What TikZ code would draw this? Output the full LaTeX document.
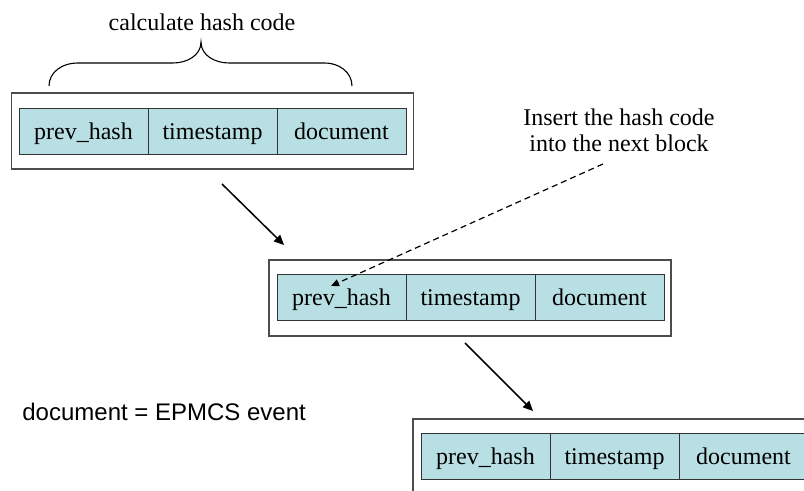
\documentclass[tikz,border=0pt]{standalone}
\usepackage{fontspec}
\setmainfont{Liberation Serif}
\newfontfamily\plainsans{Liberation Sans}
\usetikzlibrary{arrows.meta}
\definecolor{cellfill}{RGB}{184,223,227}
\begin{document}
\begin{tikzpicture}[x=0.5pt,y=-0.5pt,
  cell/.style={draw=black!80, fill=cellfill, line width=0.5pt,
    minimum width=64.5pt, minimum height=23pt, inner sep=0pt,
    text height=0.9em, text depth=0.1em,
    font=\fontsize{12}{13}\selectfont},
  frame/.style={draw=black!70, line width=0.65pt, minimum width=201pt,
    minimum height=38pt, inner sep=0pt},
  flow/.style={line width=0.75pt, -{Triangle[length=5pt,width=4.5pt]}},
  hint/.style={line width=0.6pt, dash pattern=on 3pt off 2pt,
    -{Triangle[length=4pt,width=3.5pt]}},
  lbl/.style={font=\fontsize{12}{13}\selectfont, inner sep=0pt}]
\useasboundingbox (0,0) rectangle (804,491);
\clip (0,0) rectangle (804,491);

% block 1
\node[frame] (blk1) at (212.5,131) {};
\node[cell] (b1p) at (83.5,131.5) {prev\_hash};
\node[cell] (b1t) at (212.5,131.5) {timestamp};
\node[cell] (b1d) at (341.5,131.5) {document};

% block 2
\node[frame] (blk2) at (470,298) {};
\node[cell] (b2p) at (341.5,298) {prev\_hash};
\node[cell] (b2t) at (470.5,298) {timestamp};
\node[cell] (b2d) at (599.5,298) {document};

% block 3 (runs past the right and bottom edges)
\node[frame] (blk3) at (614,457) {};
\node[cell] (b3p) at (485.5,457) {prev\_hash};
\node[cell] (b3t) at (614.5,457) {timestamp};
\node[cell] (b3d) at (743.5,457) {document};

% labels
\node[lbl] (calc) at (202,22) {calculate hash code};
\node[lbl, align=center] (ins) at (619,130) {Insert the hash code\\into the next block};
\node[lbl, anchor=west, font=\plainsans\fontsize{12}{13}\selectfont] (legend) at (22,412) {document = EPMCS event};

% brace over the hashed fields
\draw[line width=0.55pt] (49,86) to[out=90,in=180] (77,63) -- (173,63)
  to[out=0,in=-90] (201,42) to[out=-90,in=180] (229,63) -- (325,63)
  to[out=0,in=90] (352,86);

% chain arrows
\coordinate (a1s) at (222,184);
\coordinate (a1e) at (284,245);
\coordinate (a2s) at (465,343);
\coordinate (a2e) at (533,411);
\draw[flow] (a1s) -- (a1e);
\draw[flow] (a2s) -- (a2e);

% hash inserted into the next block
\coordinate (hs) at (603,164);
\coordinate (he) at (331,286);
\draw[hint] (hs) -- (he);
\end{tikzpicture}
\end{document}
